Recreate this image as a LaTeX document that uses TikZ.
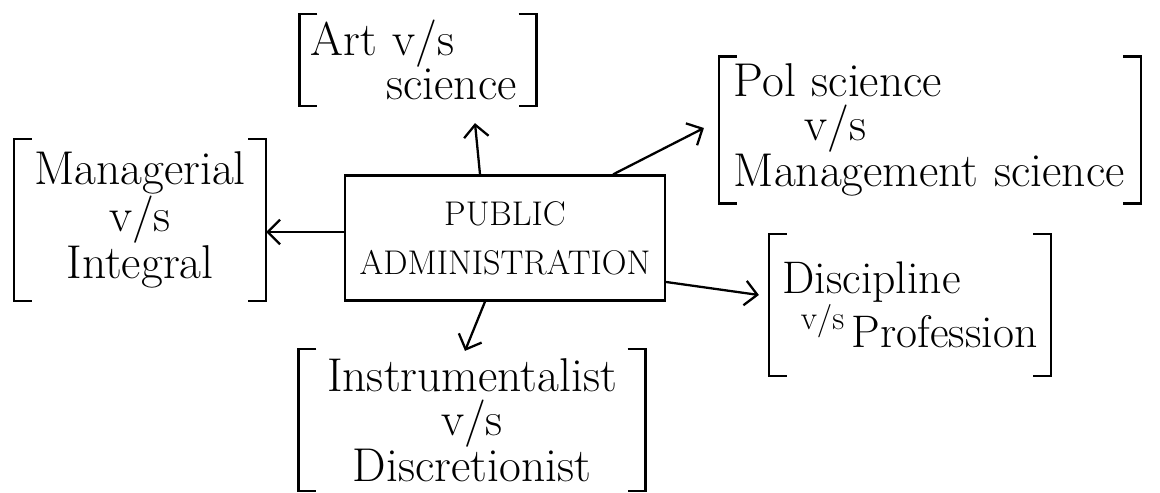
\documentclass[tikz,border=0pt]{standalone}
\usepackage{amsmath}
\usetikzlibrary{arrows.meta,positioning,calc}

% square brackets around a node
\newcommand{\brackets}[1]{%
  \draw ([xshift=0.36cm]#1.north west) -- (#1.north west) -- (#1.south west) -- ([xshift=0.36cm]#1.south west);
  \draw ([xshift=-0.36cm]#1.north east) -- (#1.north east) -- (#1.south east) -- ([xshift=-0.36cm]#1.south east);}
\newcommand{\smallvs}{\raisebox{0.4em}{\fontsize{19}{19}\selectfont v/s}}

\tikzset{
  vsnode/.style={inner sep=0pt, font=\fontsize{27}{25}\selectfont},
  mainbox/.style={draw, inner sep=0pt, align=center, font=\fontsize{19.5}{28}\selectfont}
}

\begin{document}
\begin{tikzpicture}[x=0.02cm, y=-0.02cm, line width=1.3pt, >={Straight Barb[length=7pt,width=14pt]}]
    \useasboundingbox (0,0) rectangle (1160,493);

    \node[mainbox, minimum width=6.4cm, minimum height=2.5cm] (pa) at (505,238) {PUBLIC\\ADMINISTRATION};

    \node[vsnode, align=left, text width=4.3cm, minimum width=4.7cm, minimum height=1.8cm] (art) at (418,60) {Art v/s\\\hspace*{1.6em}science};
    \node[vsnode, align=left, text width=7.85cm, minimum width=8.4cm, minimum height=2.9cm] (pol) at (930,130) {Pol science\\\hspace*{1.5em}v/s\\Management science};
    \node[vsnode, align=center, minimum width=5cm, minimum height=3.2cm] (mgr) at (140,220) {Managerial\\v/s\\Integral};
    \node[vsnode, font=\fontsize{26}{27}\selectfont, align=left, text width=5.1cm, minimum width=5.6cm, minimum height=2.8cm] (disc) at (910,305) {Discipline\\\mbox{\hspace*{0.4em}\smallvs\,Profession}};
    \node[vsnode, align=center, minimum width=6.9cm, minimum height=2.8cm] (instr) at (472,420) {Instrumentalist\\v/s\\Discretionist};

    \brackets{art}
    \brackets{pol}
    \brackets{mgr}
    \brackets{disc}
    \brackets{instr}

    \draw[->] ([xshift=-0.5cm]pa.north) -- ([xshift=1.14cm,yshift=-0.34cm]art.south);
    \draw[->] ([xshift=-1.06cm]pa.north east) -- ([xshift=-0.3cm,yshift=0.04cm]pol.west);
    \draw[->] ([yshift=0.12cm]pa.west) -- ([yshift=0.12cm]pa.west -| mgr.east);
    \draw[->] ([yshift=-0.88cm]pa.east) -- ([xshift=-0.2cm,yshift=0.2cm]disc.west);
    \draw[->] ([xshift=-0.4cm]pa.south) -- ([xshift=-0.14cm,yshift=-0.04cm]instr.north);
\end{tikzpicture}
\end{document}
